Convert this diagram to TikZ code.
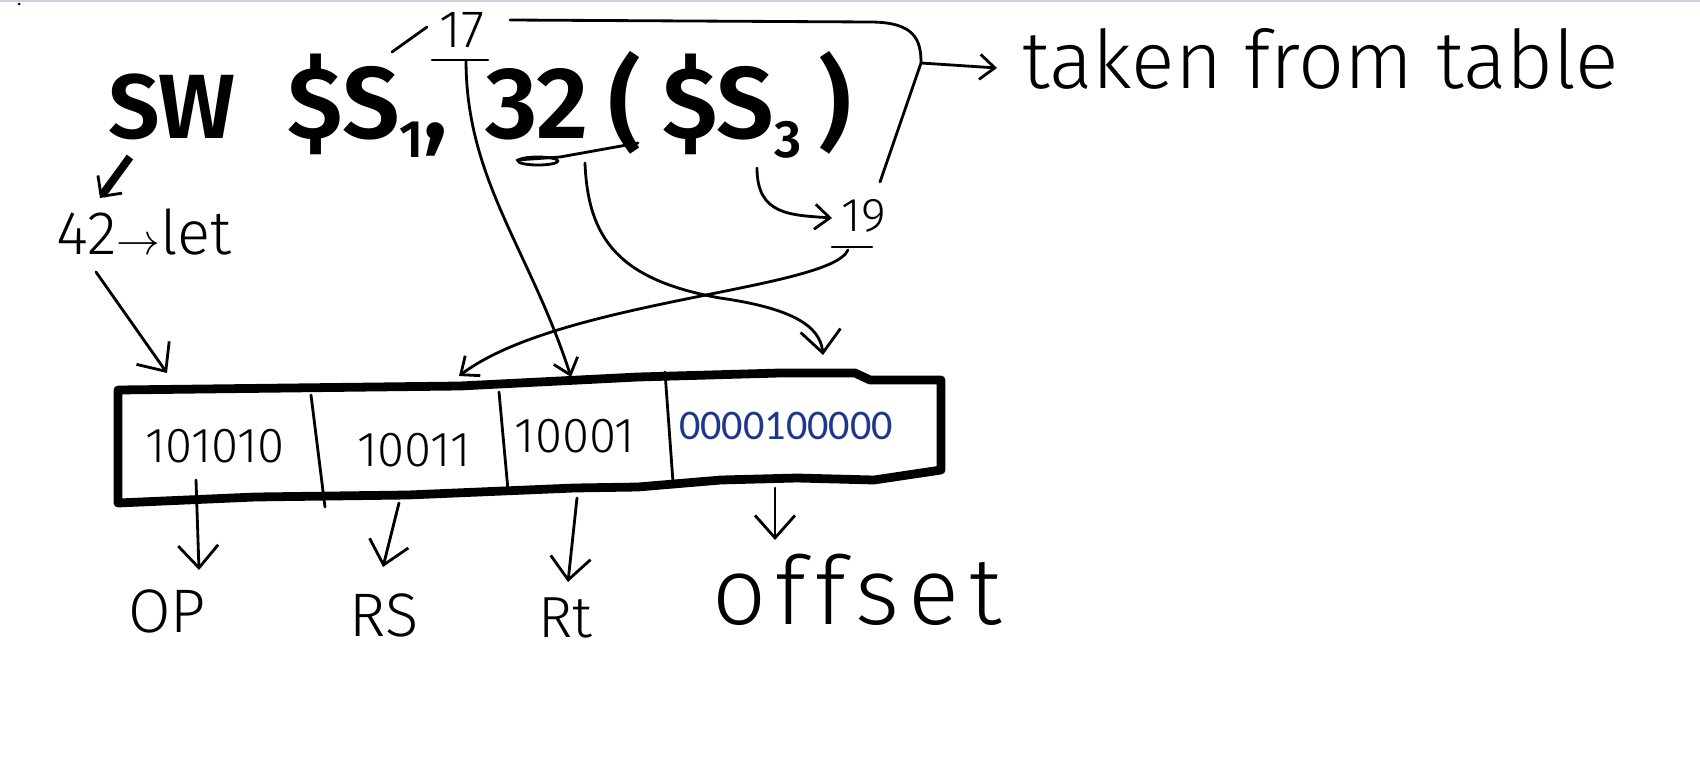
\documentclass[tikz,border=0pt]{standalone}
\usepackage{fontspec}
\setmainfont{Fira Sans Light}[BoldFont={Fira Sans SemiBold}]
\newfontfamily\typedfont{Carlito}
\usetikzlibrary{arrows.meta,calc}
\definecolor{TopBar}{RGB}{200,210,226}
\definecolor{TypedBlue}{RGB}{30,55,140}
\newcommand{\lowidx}[1]{\raisebox{-11pt}{\fontsize{30}{30}\selectfont #1}}

\begin{document}
\begin{tikzpicture}[
x=0.02cm,y=-0.02cm,
big/.style={font=\fontsize{58}{60}\selectfont\bfseries,inner sep=0pt,anchor=base},
hand/.style={font=\fontsize{#1}{#1}\selectfont,inner sep=0pt},
pen/.style={line width=1.6pt,line cap=round,line join=round},
arr/.style={pen,-{Straight Barb[length=4.5mm,width=8mm,line width=1.6pt]}},
sarr/.style={pen,-{Straight Barb[length=3mm,width=5mm,line width=1.6pt]}},
frame/.style={line width=5pt,line join=round}
]
\useasboundingbox[fill=white] (0,0) rectangle (1700,764);
\draw[TopBar,line width=1.2pt] (0,1) -- (1700,1);
\fill (19,4) circle (1.5);

\node[big,font=\fontsize{52}{56}\selectfont\bfseries] (sw) at (172,138) {SW};
\node[big] (rtreg) at (368,138) {\$S\lowidx{1},};
\node[big] (offs) at (537,138) {32};
\node[big] (basereg) at (730,138) {(\kern12pt\$S\lowidx{3}\kern10pt)};
\node[hand=30] (n17) at (462,30) {17};
\node[hand=27] (n19) at (864,216) {19};
\node[hand=35] (code) at (144,232) {42$\rightarrow$let};
\node[hand=46,anchor=base west] (taken) at (1022,88) {taken from table};

\draw[frame] (118,390) -- (460,386) -- (638,377) -- (780,373) -- (855,373) -- (870,380) -- (941,380)
  -- (941,470) -- (874,480) -- (797,478) -- (721,480) -- (638,487) -- (574,488) -- (408,495)
  -- (255,497) -- (118,503) -- cycle;
\draw[pen] (311,395) -- (325,507);
\draw[pen] (499,392) -- (508,490);
\draw[pen] (665,372) -- (673,482);
\node[hand=28] (opbits) at (215,446) {101010};
\node[hand=28] (rsbits) at (414,450) {10011};
\node[hand=28] (rtbits) at (575,436) {10001};
\node[font=\typedfont\fontsize{24}{24}\selectfont,text=TypedBlue,inner sep=0pt] (offbits) at (786,426) {0000100000};

\node[hand=35] (oplbl) at (167,611) {OP};
\node[hand=35] (rslbl) at (384,615) {RS};
\node[hand=33] (rtlbl) at (565,618) {Rt};
\node[hand=54] (offlbl) at (857,590) {\addfontfeatures{LetterSpace=10}offset};

\draw[pen] ($(n17.center)+(-30,30)$) -- ($(n17.center)+(26,30)$);
\draw[pen] ($(n19.center)+(-32,31)$) -- ($(n19.center)+(8,31)$);
\draw[pen] ($(rtreg.base)+(24,-86)$) -- ($(n17.center)+(-35,-3)$);
\draw[pen] ($(offs.base)+(-20,22)$) -- ($(offs.base)+(23,19)$) -- ($(offs.base)+(101,5)$);
\draw[pen] ($(offs.base)+(1,23)$) ellipse (20 and 4);

\draw[line width=4.5pt,-{Straight Barb[length=3mm,width=6mm,line width=1.6pt]}] ($(sw.base)+(-42,19)$) -- ($(code.center)+(-44,-34)$);
\draw[arr] ($(code.center)+(-48,40)$) -- ($(opbits.center)+(-48,-73)$);
\draw[sarr] ($(n17.center)+(4,30)$) .. controls (466,180) and (530,250) .. ($(rtbits.center)+(-4,-59)$);
\draw[sarr] ($(n19.center)+(-16,34)$) .. controls (830,290) and (560,300) .. ($(rsbits.center)+(45,-74)$);
\draw[sarr] ($(basereg.base)+(27,30)$) .. controls (757,215) and (790,215) .. ($(n19.center)+(-32,2)$);
\draw[arr] ($(offs.base)+(48,25)$) .. controls (588,240) and (620,280) .. (720,298)
  .. controls (790,308) and (820,325) .. ($(offbits.center)+(37,-71)$);
\draw[pen] ($(n17.center)+(48,-10)$) -- (870,22) .. controls (915,22) and (921,40) .. (921,63)
  coordinate (brk) -- ($(basereg.base)+(150,44)$);
\draw[sarr] (brk) -- ($(taken.base west)+(-25,-20)$);

\draw[arr] ($(opbits.center)+(-19,34)$) -- ($(oplbl.center)+(32,-41)$);
\draw[arr] ($(rsbits.center)+(-15,53)$) -- ($(rslbl.center)+(-1,-48)$);
\draw[arr] ($(rtbits.center)+(2,62)$) -- ($(rtlbl.center)+(3,-36)$);
\draw[arr] ($(offbits.center)+(-11,62)$) -- ($(offlbl.center)+(-82,-50)$);
\end{tikzpicture}
\end{document}
